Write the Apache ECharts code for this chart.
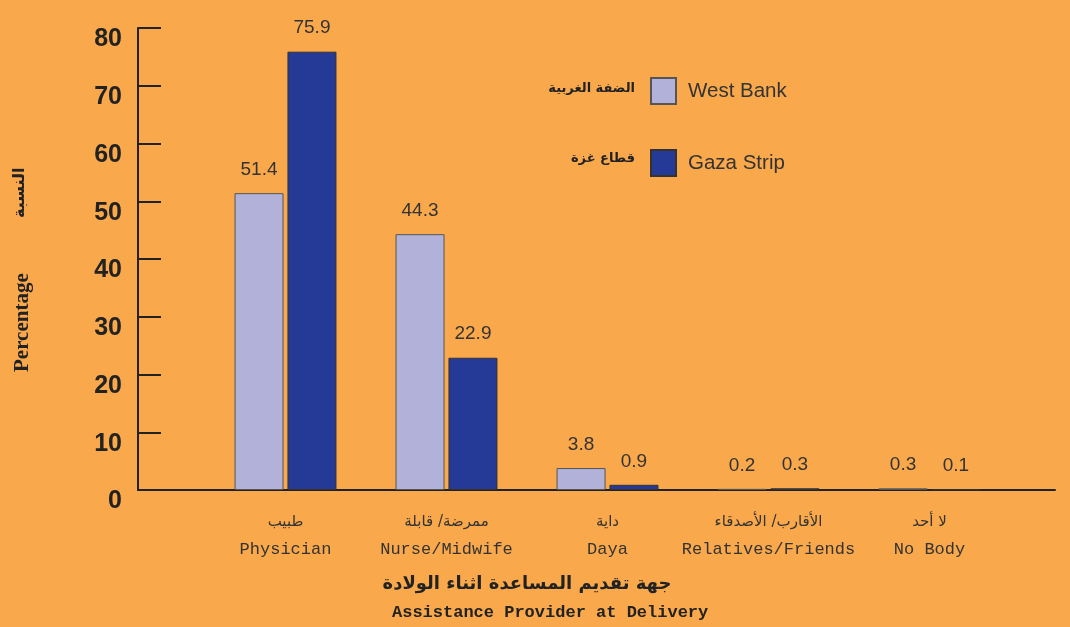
<!DOCTYPE html>
<html>
<head>
<meta charset="utf-8">
<script src="https://cdn.jsdelivr.net/npm/echarts@6/dist/echarts.min.js"></script>
<style>
  html, body { margin: 0; padding: 0; background: #F9A84B; }
  #chart { width: 1070px; height: 627px; }
</style>
</head>
<body>
<div id="chart"></div>
<script>
// 类别（阿拉伯文 + 英文）
const categoriesAr = ['طبيب', 'ممرضة/ قابلة', 'داية', 'الأقارب/ الأصدقاء', 'لا أحد'];
const categoriesEn = ['Physician', 'Nurse/Midwife', 'Daya', 'Relatives/Friends', 'No Body'];
const westBank = [51.4, 44.3, 3.8, 0.2, 0.3];
const gazaStrip = [75.9, 22.9, 0.9, 0.3, 0.1];
const yTicks = [0, 10, 20, 30, 40, 50, 60, 70, 80];

const chart = echarts.init(document.getElementById('chart'));

const barLabel = {
  show: true,
  position: 'top',
  distance: 14,
  fontFamily: 'Liberation Sans, Arial',
  fontSize: 19,
  color: '#333'
};

chart.setOption({
  backgroundColor: '#F9A84B',
  animation: false,
  legend: {
    orient: 'vertical',
    left: 650,
    top: 77,
    padding: 0,
    itemWidth: 25,
    itemHeight: 26,
    itemGap: 44,
    icon: 'rect',
    textStyle: { fontFamily: 'Liberation Sans, Arial', fontSize: 20.5, color: '#333', padding: [0, 0, 0, 7] },
    data: ['West Bank', 'Gaza Strip']
  },
  grid: [
    // 坐标轴网格
    { left: 138, right: 15, top: 28, bottom: 137 },
    // 柱状图网格
    { left: 205, right: 60, top: 28, bottom: 137 }
  ],
  xAxis: [
    {
      gridIndex: 0, type: 'value', min: 0, max: 1,
      axisLine: { show: true, lineStyle: { color: '#222', width: 2 } },
      axisTick: { show: false }, axisLabel: { show: false }, splitLine: { show: false }
    },
    {
      gridIndex: 1, type: 'category',
      data: categoriesEn,
      axisLine: { show: false }, axisTick: { show: false },
      axisLabel: {
        margin: 19,
        interval: 0,
        formatter: (v, i) => '{ar|' + categoriesAr[i] + '}\n{en|' + v + '}',
        rich: {
          ar: { fontFamily: 'DejaVu Sans', fontSize: 15, color: '#333', lineHeight: 27 },
          en: { fontFamily: 'Liberation Mono, Courier New', fontSize: 17, color: '#333', lineHeight: 26 }
        }
      }
    }
  ],
  yAxis: [
    {
      gridIndex: 0, type: 'value', min: 0, max: 80, interval: 10,
      axisLine: { show: true, lineStyle: { color: '#222', width: 2 } },
      axisTick: { show: true, inside: true, length: 23, lineStyle: { color: '#222', width: 2 } },
      axisLabel: {
        margin: 16,
        verticalAlign: 'top',
        padding: [-1, 0, 0, 0],
        fontFamily: 'Liberation Sans, Arial',
        fontWeight: 'bold',
        fontSize: 25,
        color: '#222',
        formatter: v => (yTicks.indexOf(v) >= 0 ? String(v) : '')
      },
      splitLine: { show: false }
    },
    {
      gridIndex: 1, type: 'value', min: 0, max: 80, interval: 10, show: false,
      splitLine: { show: false }
    }
  ],
  series: [
    {
      name: 'West Bank', type: 'bar', xAxisIndex: 1, yAxisIndex: 1,
      data: westBank,
      barWidth: 49, barGap: '8%',
      itemStyle: { color: '#B1B1D9', borderColor: '#555', borderWidth: 1 },
      label: barLabel
    },
    {
      name: 'Gaza Strip', type: 'bar', xAxisIndex: 1, yAxisIndex: 1,
      data: gazaStrip,
      barWidth: 49, barGap: '8%',
      itemStyle: { color: '#253A97', borderColor: '#333', borderWidth: 1 },
      label: barLabel
    }
  ],
  graphic: [
    // 图例阿拉伯文
    { type: 'text', right: 1070 - 635, top: 82, style: { text: 'الضفة الغربية', font: 'bold 13px DejaVu Sans', fill: '#222' } },
    { type: 'text', right: 1070 - 635, top: 152, style: { text: 'قطاع غزة', font: 'bold 13px DejaVu Sans', fill: '#222' } },
    // Y 轴标题
    { type: 'text', x: 12, y: 372, rotation: Math.PI / 2, style: { text: 'Percentage', font: 'bold 21px Liberation Serif', fill: '#222' } },
    { type: 'text', x: 12, y: 218, rotation: Math.PI / 2, style: { text: 'النسبة', font: 'bold 16px DejaVu Sans', fill: '#222' } },
    // X 轴标题
    { type: 'text', x: 527, y: 575, style: { text: 'جهة تقديم المساعدة اثناء الولادة', font: 'bold 18px DejaVu Sans', fill: '#222', align: 'center' } },
    { type: 'text', x: 392, y: 604, style: { text: 'Assistance Provider at Delivery', font: 'bold 17px Liberation Mono', fill: '#222' } }
  ]
});
</script>
</body>
</html>
